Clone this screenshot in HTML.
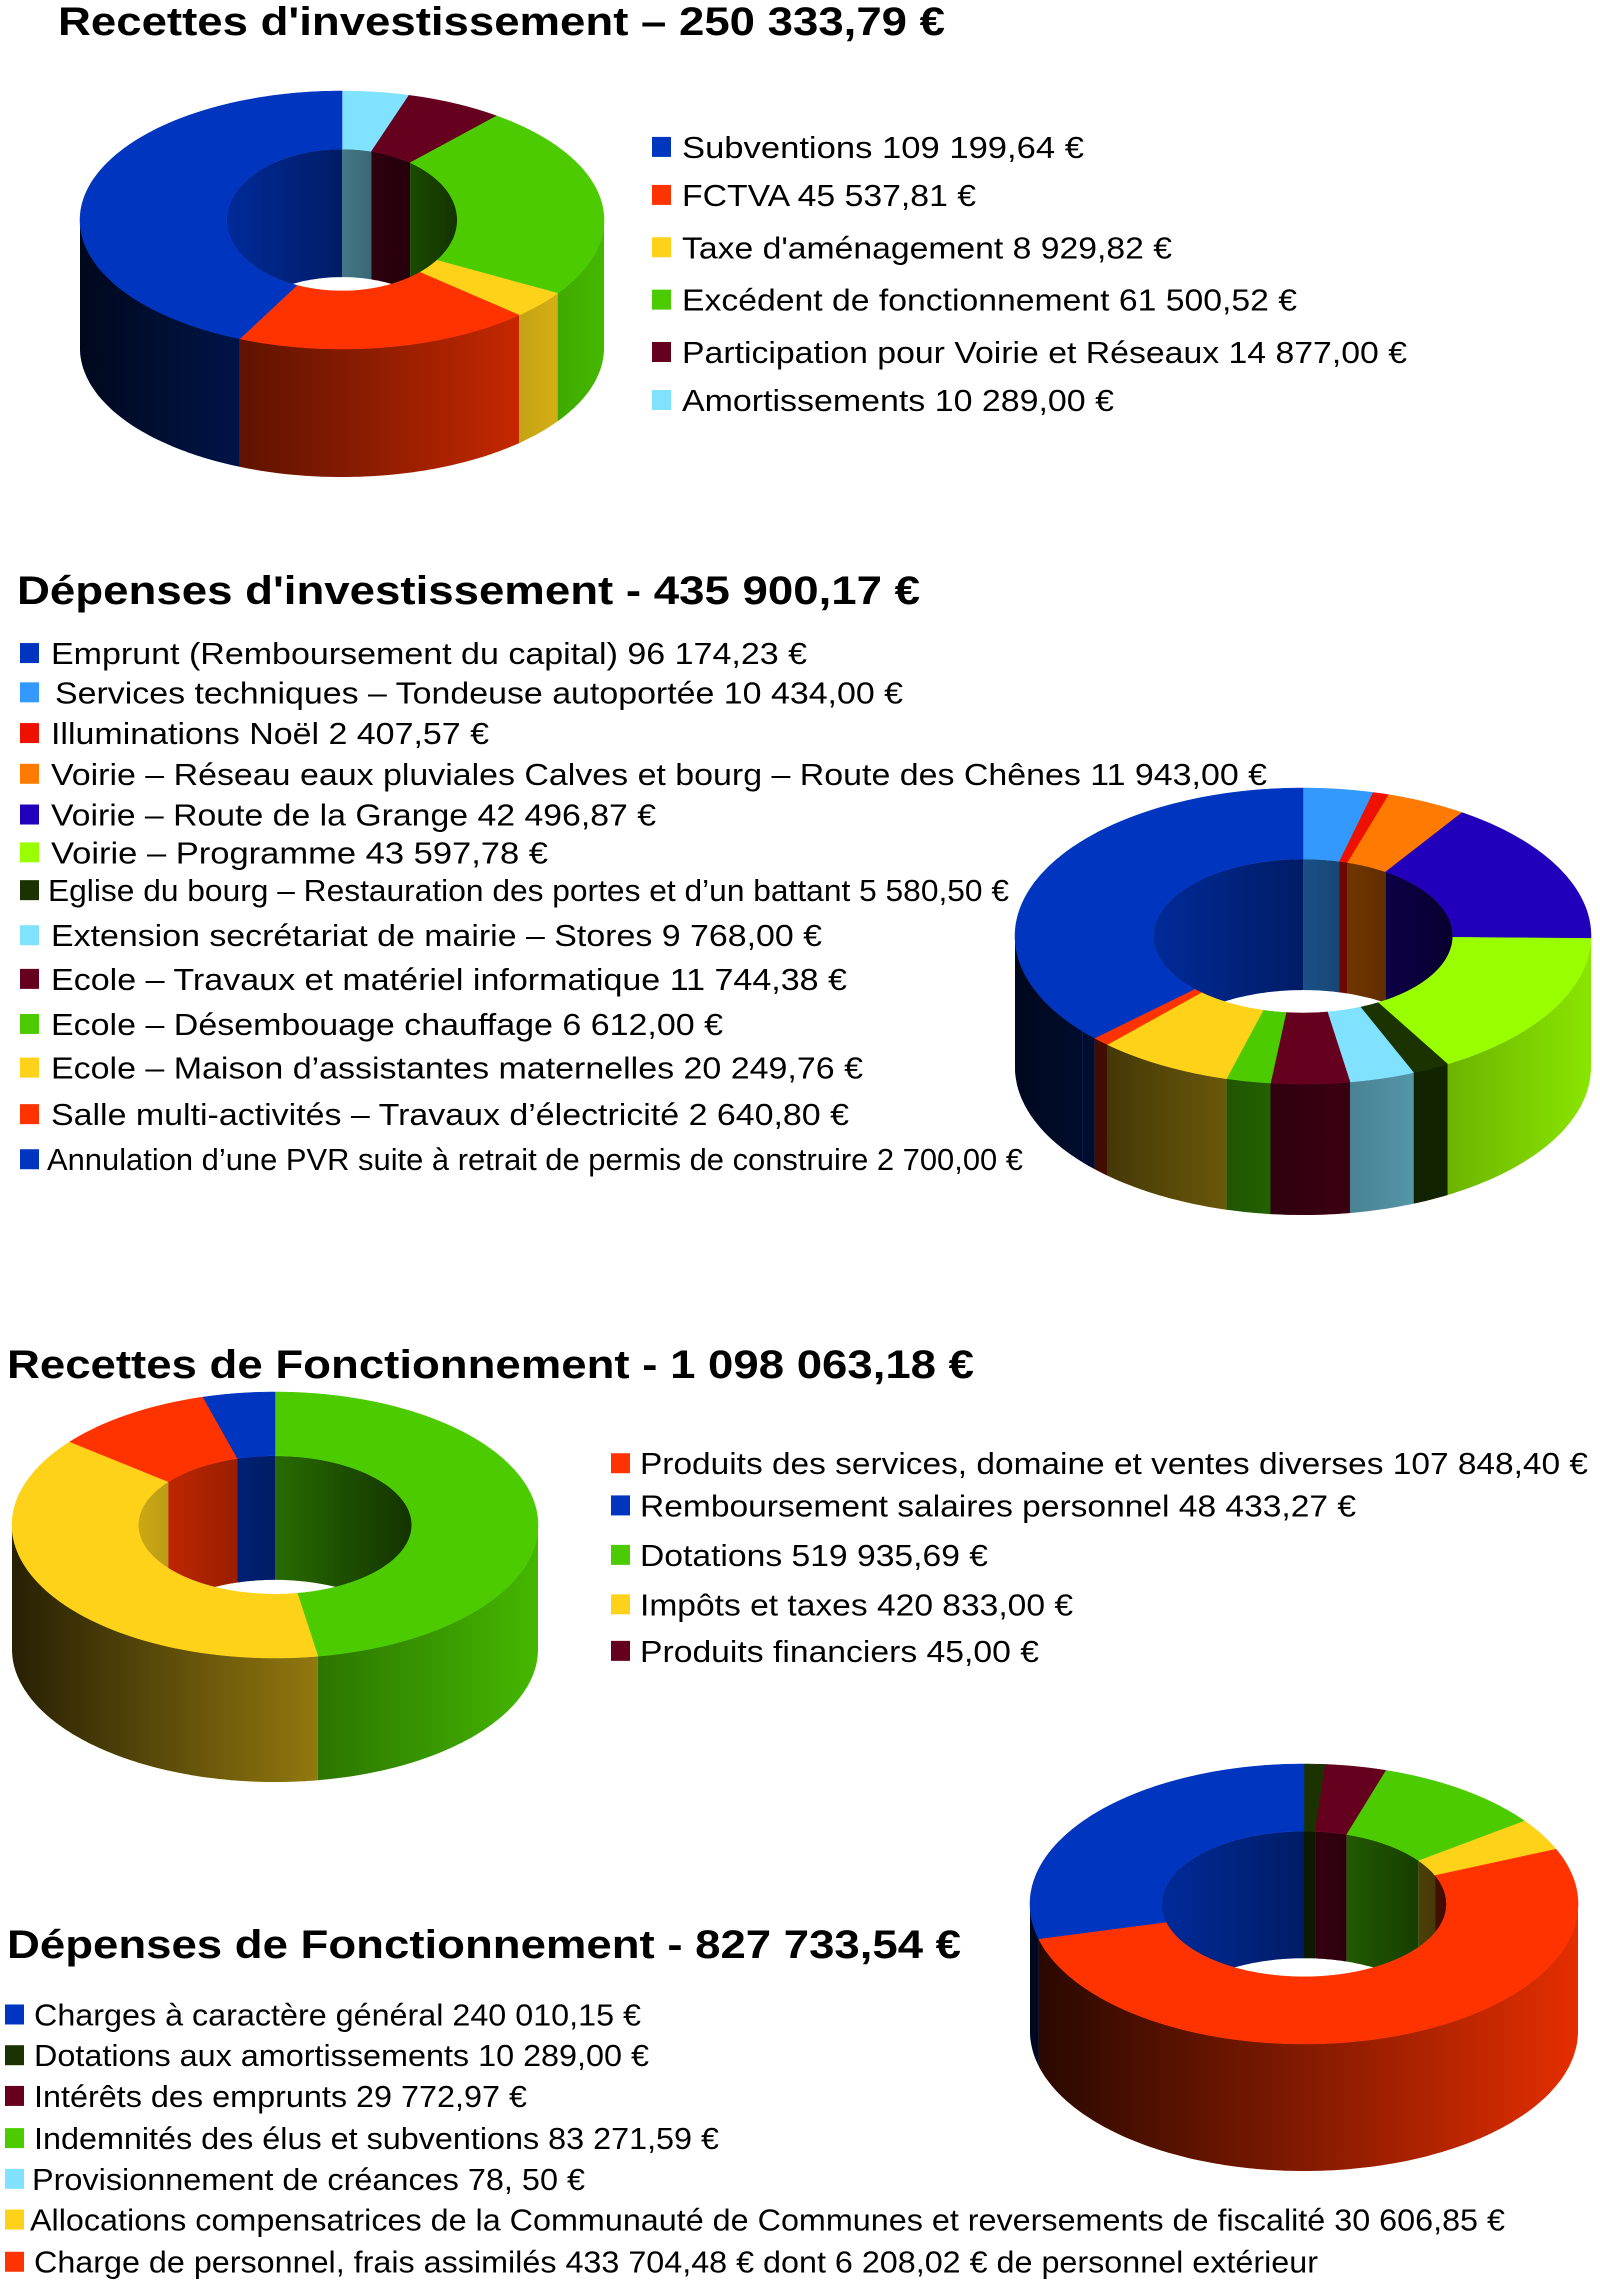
<!DOCTYPE html>
<html><head><meta charset="utf-8">
<style>
html,body{margin:0;padding:0;background:#fff;}
svg{display:block;}
text{font-family:"Liberation Sans",Arial,sans-serif;fill:#000;}
.t{font-weight:bold;font-size:40px;}
.l{font-size:31px;}
</style></head>
<body>
<svg id="s" width="1600" height="2281" viewBox="0 0 1600 2281" xmlns="http://www.w3.org/2000/svg">
<g id="charts"></g>
<text class="t" x="58" y="35" textLength="887" lengthAdjust="spacingAndGlyphs">Recettes d'investissement – 250 333,79 €</text>
<text class="t" x="17" y="604" textLength="903" lengthAdjust="spacingAndGlyphs">Dépenses d'investissement - 435 900,17 €</text>
<text class="t" x="7" y="1378" textLength="967" lengthAdjust="spacingAndGlyphs">Recettes de Fonctionnement - 1 098 063,18 €</text>
<text class="t" x="7" y="1958" textLength="954" lengthAdjust="spacingAndGlyphs">Dépenses de Fonctionnement - 827 733,54 €</text>
<g id="legends"></g>
</svg>
<script>
var NS="http://www.w3.org/2000/svg";
function el(p,n,a,txt){var e=document.createElementNS(NS,n);for(var k in a)e.setAttribute(k,a[k]);if(txt!=null)e.textContent=txt;p.appendChild(e);return e;}
var svg=document.getElementById('s'),G=document.getElementById('charts'),L=document.getElementById('legends');
var defs=el(svg,'defs',{});
var C={blue:'#0035c0',red:'#ff3300',yel:'#ffd21a',grn:'#4ccc00',mar:'#66001f',lb:'#80e2ff',dg:'#1a3300',org:'#ff7a00',pur:'#2200bb',lime:'#99ff00',sky:'#3399ff',red2:'#ee1100'};
var gid=0;
function donut(o){
  var tot=o.sl.reduce(function(a,b){return a+b.v},0);
  var irx=o.irx||o.ir, iry=o.iry||o.ir;
  var id='g'+(gid++),id2='h'+gid,cl='c'+gid;
  var lg=el(defs,'linearGradient',{id:id,gradientUnits:'userSpaceOnUse',x1:o.cx-o.rx,y1:0,x2:o.cx+o.rx,y2:0});
  el(lg,'stop',{offset:'0','stop-color':'#000','stop-opacity':'0.85'});
  el(lg,'stop',{offset:'0.55','stop-color':'#000','stop-opacity':'0.45'});
  el(lg,'stop',{offset:'1','stop-color':'#000','stop-opacity':'0.1'});
  var lg2=el(defs,'linearGradient',{id:id2,gradientUnits:'userSpaceOnUse',x1:o.cx-o.rx*irx,y1:0,x2:o.cx+o.rx*irx,y2:0});
  el(lg2,'stop',{offset:'0','stop-color':'#000','stop-opacity':'0.2'});
  el(lg2,'stop',{offset:'1','stop-color':'#000','stop-opacity':'0.75'});
  var cp=el(defs,'clipPath',{id:cl});
  el(cp,'ellipse',{cx:o.cx,cy:o.cy,rx:o.rx*irx,ry:o.ry*iry});
  function P(t,inner,dz){var a=t*Math.PI/180;var fx=inner?irx:1,fy=inner?iry:1;return [o.cx+fx*o.rx*Math.sin(a),o.cy-fy*o.ry*Math.cos(a)+dz];}
  function arc(a0,a1,inner,dz){var pts=[],n=Math.max(2,Math.ceil(Math.abs(a1-a0)));for(var i=0;i<=n;i++)pts.push(P(a0+(a1-a0)*i/n,inner,dz));return pts;}
  function poly(pts){return 'M'+pts.map(function(p){return p[0].toFixed(1)+','+p[1].toFixed(1)}).join('L')+'Z';}
  var a=0,segs=[];
  o.sl.forEach(function(s){var b=a+360*s.v/tot;segs.push([a,b,s.c]);a=b;});
  var gi=el(G,'g',{'clip-path':'url(#'+cl+')'}),gw=el(G,'g',{}),gt=el(G,'g',{});
  el(gi,'rect',{x:o.cx-o.rx,y:o.cy-o.ry,width:2*o.rx,height:2*o.ry,fill:'#fff'});
  segs.forEach(function(s){
    [[0,90],[270,360]].forEach(function(r){
      var x0=Math.max(s[0],r[0]),x1=Math.min(s[1],r[1]);
      if(x1>x0){var p=arc(x0,x1,true,0).concat(arc(x1,x0,true,o.d));
        var d=poly(p);el(gi,'path',{d:d,fill:s[2]});el(gi,'path',{d:d,fill:'url(#'+id2+')'});}
    });
    var x0=Math.max(s[0],90),x1=Math.min(s[1],270);
    if(x1>x0){var p=arc(x0,x1,false,0).concat(arc(x1,x0,false,o.d));
      var d=poly(p);el(gw,'path',{d:d,fill:s[2]});el(gw,'path',{d:d,fill:'url(#'+id+')'});}
    var t=arc(s[0],s[1],false,0).concat(arc(s[1],s[0],true,0));
    el(gt,'path',{d:poly(t),fill:s[2],stroke:s[2],'stroke-width':'0.5'});
  });
}
donut({cx:342,cy:220,rx:262,ry:129,irx:0.44,iry:0.55,d:128,sl:[
 {v:10289,c:C.lb},{v:14877,c:C.mar},{v:61500,c:C.grn},{v:8930,c:C.yel},{v:45538,c:C.red},{v:109200,c:C.blue}]});
donut({cx:1303,cy:936,rx:288,ry:148,ir:0.52,d:131,sl:[
 {v:10434,c:C.sky},{v:2408,c:C.red2},{v:11943,c:C.org},{v:42497,c:C.pur},{v:43598,c:C.lime},{v:5580,c:C.dg},{v:9768,c:C.lb},{v:11744,c:C.mar},{v:6612,c:C.grn},{v:20250,c:C.yel},{v:2641,c:C.red},{v:2700,c:C.blue},{v:96174,c:C.blue}]});
donut({cx:275,cy:1525,rx:263,ry:133,ir:0.52,d:124,sl:[
 {v:519936,c:C.grn},{v:420833,c:C.yel},{v:107848,c:C.red},{v:48433,c:C.blue}]});
donut({cx:1304,cy:1904,rx:274,ry:140,ir:0.52,d:127,sl:[
 {v:10289,c:C.dg},{v:29773,c:C.mar},{v:83272,c:C.grn},{v:30607,c:C.yel},{v:433704,c:C.red},{v:240010,c:C.blue}]});
var S=1.4545;
function legend(sqx,tx,items){items.forEach(function(it){
  var cy=it[0]*S;
  el(L,'rect',{x:sqx,y:cy-10,width:19,height:20,fill:it[1]});
  var x=(it[4]||tx);
  el(L,'text',{class:'l',x:x,y:cy+11,textLength:(it[3]*S-x).toFixed(0),lengthAdjust:'spacingAndGlyphs'},it[2]);
});}
legend(652,682,[
 [101,C.blue,'Subventions  109 199,64 €',745],
 [134,C.red,'FCTVA 45 537,81 €',671],
 [170,C.yel,"Taxe d'aménagement 8 929,82 €",806],
 [206,C.grn,'Excédent de fonctionnement 61 500,52 €',892],
 [242,C.mar,'Participation pour Voirie et Réseaux 14 877,00 €',967],
 [275,C.lb,'Amortissements 10 289,00 €',766]]);
legend(20,51,[
 [449,C.blue,'Emprunt (Remboursement du capital) 96 174,23 €',555],
 [476,C.sky,'Services techniques – Tondeuse autoportée 10 434,00 €',621,55],
 [504,C.red2,'Illuminations Noël 2 407,57 €',336],
 [532,C.org,'Voirie – Réseau eaux pluviales Calves et bourg – Route des Chênes 11 943,00 €',871],
 [560,C.pur,'Voirie – Route de la Grange 42 496,87 €',451],
 [586,C.lime,'Voirie – Programme  43 597,78 €',377],
 [612,C.dg,'Eglise du bourg – Restauration des portes et d’un battant 5 580,50 €',694,48],
 [643,C.lb,'Extension secrétariat de mairie – Stores 9 768,00 €',565],
 [673,C.mar,'Ecole – Travaux et matériel informatique 11 744,38 €',582],
 [704,C.grn,'Ecole – Désembouage chauffage 6 612,00 €',497],
 [734,C.yel,'Ecole – Maison d’assistantes maternelles 20 249,76 €',593],
 [766,C.red,'Salle multi-activités – Travaux d’électricité 2 640,80 €',584],
 [797,C.blue,'Annulation d’une PVR suite à retrait de permis de construire 2 700,00 €',703,47]]);
legend(611,640,[
 [1006,C.red,'Produits des services, domaine et ventes diverses 107 848,40 €',1092],
 [1035,C.blue,'Remboursement salaires personnel 48 433,27 €',932],
 [1069,C.grn,'Dotations 519 935,69 €',679],
 [1103,C.yel,'Impôts et taxes 420 833,00 €',738],
 [1135,C.mar,'Produits financiers 45,00 €',714]]);
legend(5,34,[
 [1385,C.blue,'Charges à caractère général 240 010,15 €',441],
 [1413,C.dg,'Dotations aux amortissements 10 289,00 €',446],
 [1441,C.mar,'Intérêts des emprunts 29 772,97 €',362],
 [1470,C.grn,'Indemnités des élus et subventions 83 271,59 €',494],
 [1498,C.lb,'Provisionnement de créances 78, 50 €',402,32],
 [1526,C.yel,'Allocations compensatrices de la Communauté de Communes et reversements de fiscalité 30 606,85 €',1035,30],
 [1555,C.red,'Charge de personnel, frais assimilés 433 704,48 € dont 6 208,02 € de personnel extérieur',906]]);
</script>
</body></html>
